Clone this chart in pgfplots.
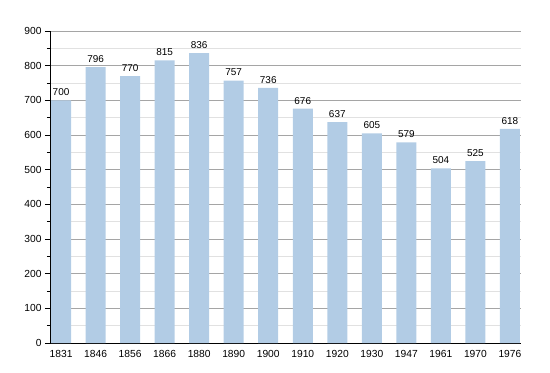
\documentclass[border=0pt]{standalone}
\usepackage{pgfplots}
\pgfplotsset{compat=1.18}
\usepackage{fontspec}
\setmainfont{Liberation Sans}
\definecolor{barblue}{RGB}{178,204,229}
\definecolor{majgrid}{RGB}{165,165,165}
\definecolor{mingrid}{RGB}{225,225,225}
\begin{document}
\begin{tikzpicture}
\path[use as bounding box] (-50bp,-30bp) rectangle (500bp,343bp);
\begin{axis}[
  at={(0,0)}, anchor=south west,
  scale only axis, width=471bp, height=312bp,
  xmin=-0.32, xmax=13.32, ymin=0, ymax=900,
  axis x line*=bottom, axis y line*=left,
  axis line style={black, line width=1pt},
  x axis line style={-}, y axis line style={-},
  xtick=data,
  xticklabels={1831,1846,1856,1866,1880,1890,1900,1910,1920,1930,1947,1961,1970,1976},
  x tick style={draw=none},
  ytick={0,100,...,900},
  minor y tick num=1,
  ymajorgrids, yminorgrids,
  major grid style={majgrid, line width=0.8pt},
  minor grid style={mingrid, line width=0.6pt},
  y tick style={black, line width=0.6pt},
  tick align=outside,
  major tick length=5bp, minor tick length=3bp,
  /pgf/number format/assume math mode=true,
  ticklabel style={font=\fontsize{10.3}{12}\selectfont},
  xticklabel style={yshift=1pt},
  ybar, bar width=20bp,
  nodes near coords,
  nodes near coords style={font=\fontsize{10}{12}\selectfont, yshift=1pt},
  axis on top=false,
  clip=false,
]
\addplot[fill=barblue, draw=none] coordinates {
(0,700) (1,796) (2,770) (3,815) (4,836) (5,757) (6,736) (7,676) (8,637) (9,605) (10,579) (11,504) (12,525) (13,618)
};
\end{axis}
\end{tikzpicture}
\end{document}
